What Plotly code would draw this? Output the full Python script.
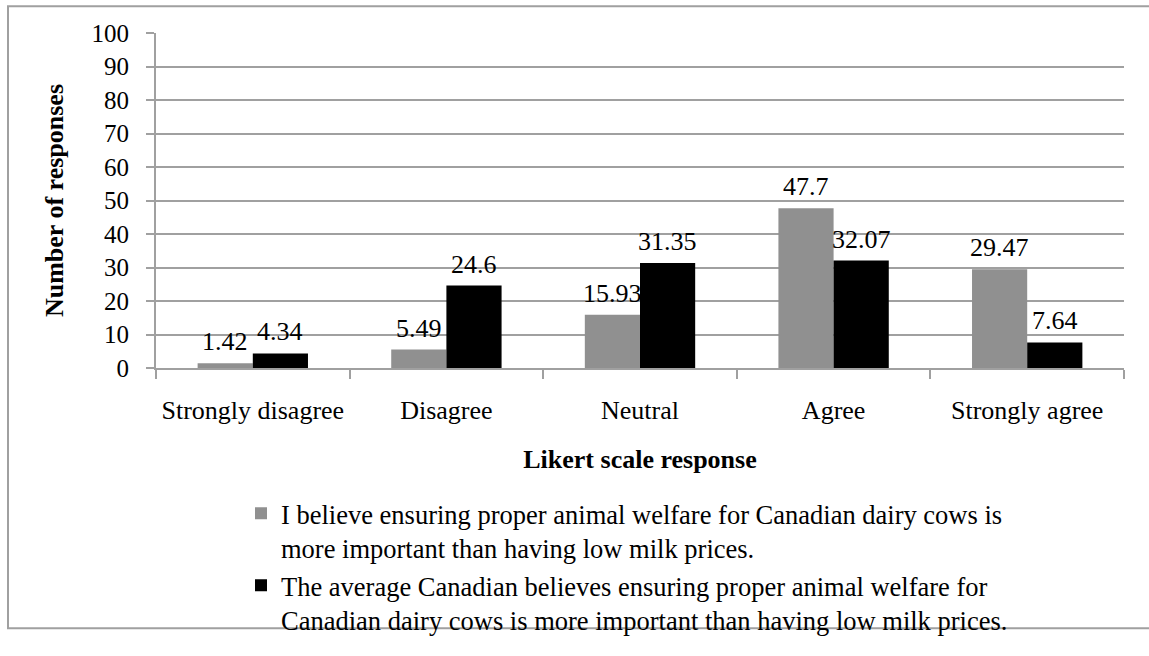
import plotly.graph_objects as go

# Survey responses (Likert scale), values as percentages of responses
categories = ["Strongly disagree", "Disagree", "Neutral", "Agree", "Strongly agree"]
self_values = [1.42, 5.49, 15.93, 47.7, 29.47]
average_values = [4.34, 24.6, 31.35, 32.07, 7.64]
series_names = [
    "I believe ensuring proper animal welfare for Canadian dairy cows is<br>more important than having low milk prices.",
    "The average Canadian believes ensuring proper animal welfare for<br>Canadian dairy cows is more important than having low milk prices.",
]
y_ticks = list(range(0, 101, 10))

FONT = "Liberation Serif, Times New Roman, serif"
GRID = "#a0a0a0"
W, H = 1149, 656
L, R, T, B = 156, 25, 33, 273
pw, ph = W - L - R, H - T - B
BARGAP = 0.43


def px_x(x):
    return (x - L) / pw


def px_y(y):
    return (H - B - y) / ph


fig = go.Figure()
fig.add_trace(go.Bar(
    x=categories, y=self_values, name=series_names[0],
    marker=dict(color="#909090", line=dict(width=0)),
))
fig.add_trace(go.Bar(
    x=categories, y=average_values, name=series_names[1],
    marker=dict(color="#000000", line=dict(width=0)),
))

# value labels above each bar, shifted to the centre of its bar in the group
bar_w = pw / len(categories) * (1 - BARGAP) / 2
annotations = []
for values, shift in ((self_values, -bar_w / 2), (average_values, bar_w / 2)):
    for cat, v in zip(categories, values):
        annotations.append(dict(
            x=cat, y=v, xref="x", yref="y", text=f"{v:g}", showarrow=False,
            xanchor="center", yanchor="bottom", xshift=shift, yshift=5,
            font=dict(family=FONT, size=26, color="black"),
        ))

fig.update_layout(
    width=W, height=H, autosize=False,
    margin=dict(l=L, r=R, t=T, b=B, pad=0),
    paper_bgcolor="white", plot_bgcolor="white",
    font=dict(family=FONT, size=26, color="black"),
    barmode="group", bargap=BARGAP, bargroupgap=0,
    legend=dict(
        x=px_x(241), y=px_y(510), xanchor="left", yanchor="top",
        font=dict(family=FONT, size=26.5, color="black"),
        valign="top", tracegroupgap=0, bgcolor="rgba(0,0,0,0)",
    ),
    xaxis=dict(
        type="category", tickson="boundaries", ticks="outside", ticklen=9,
        tickwidth=2, tickcolor=GRID, showline=True, linecolor=GRID, linewidth=2,
        showgrid=False, ticklabelstandoff=18, automargin=False,
        title=dict(text="<b>Likert scale response</b>", standoff=26,
                   font=dict(family=FONT, size=26)),
        tickfont=dict(family=FONT, size=26),
    ),
    yaxis=dict(
        range=[0, 100], tickvals=y_ticks, ticks="outside", ticklen=8,
        tickwidth=2, tickcolor=GRID, showline=True, linecolor=GRID, linewidth=2,
        showgrid=True, gridcolor=GRID, gridwidth=2, zeroline=False,
        ticklabelstandoff=12, automargin=False,
        title=dict(text="<b>Number of responses</b>", standoff=20,
                   font=dict(family=FONT, size=26)),
        tickfont=dict(family=FONT, size=25),
    ),
    annotations=annotations,
    shapes=[dict(
        type="rect", xref="paper", yref="paper",
        x0=px_x(8), x1=px_x(1152), y0=px_y(655), y1=px_y(5),
        line=dict(color=GRID, width=2), layer="below",
    )],
)

fig.write_html("out.html")
